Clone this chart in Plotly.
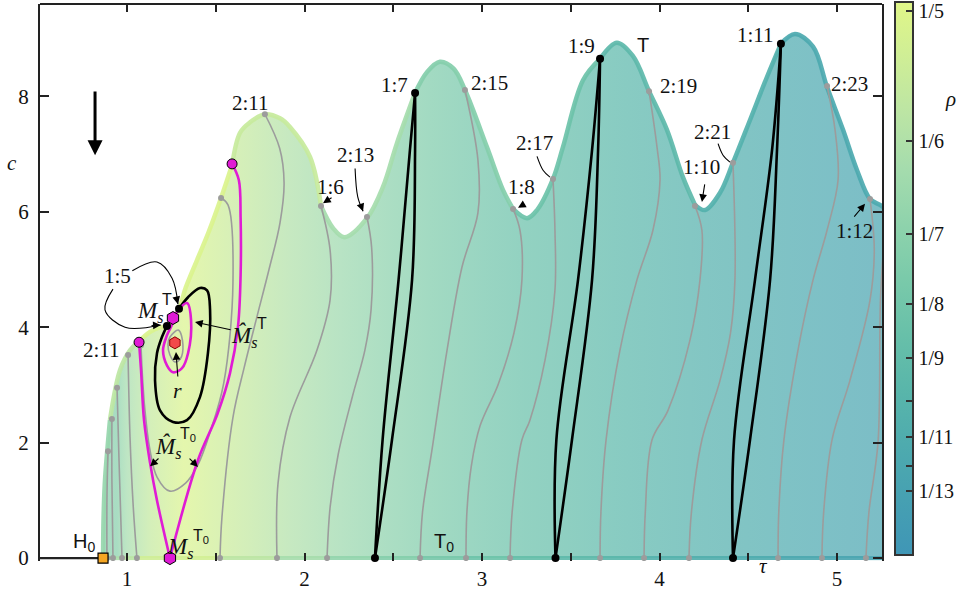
import plotly.graph_objects as go

SERIF = "Liberation Serif"
SANS = "Liberation Sans"
INK = "#111111"
GRAY = "#9c9c9c"
MAGENTA = "#e01bd5"

# ---------------- axes ----------------
X_RANGE = [0.5099, 5.2535]
Y_RANGE = [-0.05, 9.6]
X_TICKS = [1, 2, 3, 4, 5]
X_MINOR = [1.5, 2.5, 3.5, 4.5]
Y_TICKS = [0, 2, 4, 6, 8]

# ---------------- rotation-number colour scale ----------------
RHO_MIN, RHO_MAX = 0.0605, 0.2023
RHO_TICKS = [1/5, 1/6, 1/7, 1/8, 1/9, 1/10, 1/11, 1/12, 1/13]
RHO_TICK_TEXT = ["1/5", "1/6", "1/7", "1/8", "1/9", "", "1/11", "", "1/13"]
CMAP_POS = [0.0, 0.1, 0.2, 0.3, 0.4, 0.5, 0.6, 0.7, 0.8, 0.9, 1.0]
CMAP_HEX = ["#3f96b6", "#46a0b2", "#4eabae", "#59b6aa", "#68c0a9", "#7acaaa",
            "#8fd3ac", "#a5dcad", "#bce5a4", "#cfee96", "#e0f688"]

# ---------------- torus-bifurcation curve T (upper edge of the region) ----------------
T_TAU = [0.865, 0.868, 0.876, 0.904, 0.961, 1.017, 1.068, 1.130, 1.186, 1.225, 1.293, 1.33,
         1.394, 1.46, 1.530, 1.592, 1.637, 1.693, 1.777, 1.862, 1.918, 2.031, 2.093, 2.160,
         2.225, 2.352, 2.442, 2.521, 2.623, 2.690, 2.763, 2.840, 2.904, 3.028, 3.118, 3.175,
         3.254, 3.310, 3.400, 3.456, 3.569, 3.665, 3.760, 3.850, 3.941, 4.042, 4.132, 4.200,
         4.256, 4.341, 4.414, 4.510, 4.606, 4.684, 4.763, 4.865, 4.944, 5.034, 5.113, 5.186,
         5.242, 5.270]
T_C = [0.0, 0.70, 1.35, 2.39, 3.26, 3.60, 3.76, 3.92, 4.00, 4.02, 4.32, 4.68,
       5.16, 5.65, 6.24, 6.81, 7.37, 7.55, 7.69, 7.62, 7.47, 6.95, 6.10, 5.72,
       5.56, 5.89, 6.43, 7.19, 8.06, 8.42, 8.60, 8.48, 8.11, 7.12, 6.38, 6.05,
       5.89, 6.03, 6.57, 7.12, 8.28, 8.65, 8.93, 8.70, 8.09, 7.42, 6.60, 6.12,
       6.03, 6.33, 6.85, 7.59, 8.34, 8.91, 9.08, 8.86, 8.16, 7.42, 6.72, 6.22,
       6.12, 6.06]
# pieces of T drawn in their own colour, with rotation number on each piece
T_SEG_IDX = [0, 3, 6, 15, 22, 28, 35, 41, 47, 53, 61]
T_SEG_RHO = [0.15, 0.175, 0.197, 0.182, 0.16, 0.138, 0.12, 0.107, 0.097, 0.086]

# rotation number along the lower edge T0 (c = 0)
BOT_TAU = [0.865, 0.887, 0.921, 0.972, 1.056, 1.242, 1.524, 1.845, 2.127, 2.397, 2.651,
           2.910, 3.158, 3.414, 3.665, 3.913, 4.166, 4.414, 4.668, 4.915, 5.163, 5.27]
BOT_RHO = [0.14, 0.15, 0.16, 0.167, 0.18, 0.197, 0.1818, 0.1667, 0.1538, 0.1429, 0.1333,
           0.125, 0.1176, 0.1111, 0.1053, 0.1, 0.0952, 0.0909, 0.0870, 0.0833, 0.08, 0.0788]
FILL_SHIFT = 0.08

# ---------------- iso-rotation curves (grey) ----------------
ISO_L1_TAU, ISO_L1_C = [0.893, 0.887, 0.887], [1.85, 1.0, 0.0]
ISO_L2_TAU, ISO_L2_C = [0.915, 0.915, 0.921], [2.41, 1.35, 0.0]
ISO_L3_TAU, ISO_L3_C = [0.944, 0.955, 0.972], [2.95, 1.70, 0.0]
ISO_L4_TAU, ISO_L4_C = [1.006, 1.017, 1.035, 1.056], [3.52, 2.10, 0.9, 0.0]
ISO_211U_TAU = [1.530, 1.569, 1.597, 1.545, 1.47, 1.40, 1.33, 1.242, 1.17, 1.128, 1.100, 1.085, 1.079]
ISO_211U_C = [6.24, 6.12, 4.77, 3.03, 2.2, 1.62, 1.30, 1.16, 1.40, 1.90, 2.60, 3.26, 3.69]
ISO_211_TAU = [1.777, 1.86, 1.885, 1.862, 1.80, 1.732, 1.66, 1.597, 1.535, 1.524]
ISO_211_C = [7.69, 7.1, 6.5, 5.81, 5.0, 4.18, 3.3, 2.44, 0.71, 0.0]
ISO_16_TAU = [2.093, 2.144, 2.144, 2.070, 1.918, 1.851, 1.845]
ISO_16_C = [6.10, 5.34, 4.47, 3.60, 2.44, 1.30, 0.0]
ISO_213_TAU = [2.352, 2.378, 2.375, 2.34, 2.27, 2.19, 2.145, 2.127]
ISO_213_C = [5.91, 5.39, 4.3, 3.6, 2.8, 1.8, 0.9, 0.0]
ISO_215_TAU = [2.904, 2.977, 2.977, 2.887, 2.803, 2.718, 2.665, 2.651]
ISO_215_C = [8.11, 6.90, 5.98, 5.04, 3.60, 1.87, 0.8, 0.0]
ISO_18_TAU = [3.175, 3.214, 3.225, 3.18, 3.09, 2.99, 2.94, 2.915, 2.910]
ISO_18_C = [6.05, 5.68, 4.82, 3.9, 3.0, 2.3, 1.6, 0.8, 0.0]
ISO_217_TAU = [3.40, 3.411, 3.411, 3.355, 3.27, 3.225, 3.17, 3.158]
ISO_217_C = [6.57, 5.68, 4.64, 3.43, 2.39, 2.05, 0.8, 0.0]
ISO_219_TAU = [3.941, 3.986, 4.003, 3.963, 3.873, 3.777, 3.699, 3.670, 3.665]
ISO_219_C = [8.09, 7.12, 6.55, 5.68, 4.82, 3.60, 2.05, 0.8, 0.0]
ISO_110_TAU = [4.20, 4.239, 4.228, 4.172, 4.048, 3.958, 3.92, 3.913]
ISO_110_C = [6.10, 5.68, 4.82, 3.78, 2.56, 2.05, 0.8, 0.0]
ISO_221_TAU = [4.414, 4.425, 4.40, 4.341, 4.239, 4.18, 4.166]
ISO_221_C = [6.85, 4.82, 3.9, 3.08, 2.05, 0.8, 0.0]
ISO_223_TAU = [4.944, 4.989, 5.006, 4.944, 4.865, 4.780, 4.701, 4.672, 4.668]
ISO_223_C = [8.18, 7.42, 6.55, 5.68, 4.82, 3.60, 2.05, 0.8, 0.0]
ISO_112_TAU = [5.186, 5.21, 5.186, 5.073, 4.972, 4.925, 4.915]
ISO_112_C = [6.22, 5.34, 4.47, 3.08, 2.05, 0.8, 0.0]
ISO_225_TAU = [5.27, 5.245, 5.231, 5.18, 5.163]
ISO_225_C = [5.7, 4.5, 2.0, 0.8, 0.0]
ISO_R_TAU = [1.242, 1.290, 1.315, 1.300, 1.270, 1.242, 1.231, 1.242]
ISO_R_C = [3.83, 3.95, 3.70, 3.45, 3.40, 3.52, 3.70, 3.83]

# ---------------- 1:n resonance tongues (black) ----------------
K7L_TAU, K7R_TAU = [2.623, 2.594, 2.53, 2.44, 2.397], [2.623, 2.623, 2.606, 2.493, 2.397]
K7_C = [8.06, 7.07, 4.82, 2.05, 0.0]
K9L_TAU, K9R_TAU = [3.665, 3.62, 3.541, 3.419, 3.414], [3.665, 3.654, 3.62, 3.507, 3.414]
K9_C = [8.65, 7.07, 4.82, 2.05, 0.0]
K11L_TAU, K11R_TAU = [4.684, 4.634, 4.538, 4.42, 4.414], [4.684, 4.662, 4.623, 4.51, 4.414]
K11_C = [8.91, 7.07, 4.82, 2.05, 0.0]
K5_TAU = [1.293, 1.344, 1.411, 1.451, 1.468, 1.456, 1.411, 1.338, 1.259, 1.186, 1.158, 1.169, 1.197, 1.225]
K5_C = [4.32, 4.52, 4.68, 4.64, 4.30, 3.55, 2.79, 2.39, 2.36, 2.56, 3.08, 3.55, 3.83, 4.02]

# ---------------- saddle manifolds (magenta) ----------------
MS_T_TAU = [1.259, 1.338, 1.361, 1.344, 1.310, 1.259, 1.225, 1.203, 1.225, 1.253, 1.259]
MS_T_C = [4.16, 4.42, 4.12, 3.55, 3.29, 3.22, 3.34, 3.60, 3.86, 4.04, 4.16]
MS_T0L_TAU = [1.068, 1.079, 1.096, 1.130, 1.169, 1.242]
MS_T0L_C = [3.74, 3.26, 2.39, 1.65, 1.0, 0.0]
MS_T0R_TAU = [1.242, 1.40, 1.51, 1.58, 1.625, 1.640, 1.640, 1.630, 1.592]
MS_T0R_C = [0.0, 1.70, 2.50, 3.20, 4.0, 4.9, 5.9, 6.55, 6.83]

R_POINT = (1.270, 3.73)


def hex_rgb(h):
    return tuple(int(h[i:i + 2], 16) for i in (1, 3, 5))


def rho_color(rho, alpha=1.0):
    t = (rho - RHO_MIN) / (RHO_MAX - RHO_MIN)
    t = min(max(t, 0.0), 1.0)
    for k in range(len(CMAP_POS) - 1):
        if t <= CMAP_POS[k + 1]:
            f = (t - CMAP_POS[k]) / (CMAP_POS[k + 1] - CMAP_POS[k])
            a, b = hex_rgb(CMAP_HEX[k]), hex_rgb(CMAP_HEX[k + 1])
            rgb = [round(a[i] + f * (b[i] - a[i])) for i in range(3)]
            return f"rgba({rgb[0]},{rgb[1]},{rgb[2]},{alpha})"
    r, g, b = hex_rgb(CMAP_HEX[-1])
    return f"rgba({r},{g},{b},{alpha})"


fig = go.Figure()

# shaded region under T, coloured by rotation number
span = T_TAU[-1] - T_TAU[0]
fill_scale = []
for tau, rho in zip(BOT_TAU, BOT_RHO):
    pos = min(max((tau + FILL_SHIFT - T_TAU[0]) / span, 0.0), 1.0)
    if fill_scale and pos <= fill_scale[-1][0]:
        continue
    fill_scale.append([pos, rho_color(rho, 0.72)])
if fill_scale[0][0] > 0:
    fill_scale.insert(0, [0.0, fill_scale[0][1]])
if fill_scale[-1][0] < 1:
    fill_scale.append([1.0, fill_scale[-1][1]])

fig.add_trace(go.Scatter(
    x=T_TAU, y=T_C, mode="lines", line=dict(width=0, shape="spline"),
    fill="tozeroy",
    fillgradient=dict(type="horizontal", colorscale=fill_scale,
                      start=T_TAU[0], stop=T_TAU[-1]),
    hoverinfo="skip", showlegend=False))

# curve T, piecewise coloured
for k in range(len(T_SEG_RHO)):
    i0, i1 = T_SEG_IDX[k], T_SEG_IDX[k + 1]
    fig.add_trace(go.Scatter(
        x=T_TAU[i0:i1 + 1], y=T_C[i0:i1 + 1], mode="lines",
        line=dict(color=rho_color(T_SEG_RHO[k], 0.92), width=4.5, shape="spline"),
        hoverinfo="skip", showlegend=False))

# curve T0 along c = 0
for k in range(len(BOT_TAU) - 1):
    fig.add_trace(go.Scatter(
        x=[BOT_TAU[k], BOT_TAU[k + 1]], y=[0, 0], mode="lines",
        line=dict(color=rho_color(0.5 * (BOT_RHO[k] + BOT_RHO[k + 1]), 0.92), width=4),
        hoverinfo="skip", showlegend=False))
# axis segment left of H0
fig.add_trace(go.Scatter(x=[X_RANGE[0], T_TAU[0]], y=[0, 0], mode="lines",
                         line=dict(color="#222222", width=2.2),
                         hoverinfo="skip", showlegend=False))

# grey iso-rotation curves
iso_curves = [
    (ISO_L1_TAU, ISO_L1_C), (ISO_L2_TAU, ISO_L2_C), (ISO_L3_TAU, ISO_L3_C),
    (ISO_L4_TAU, ISO_L4_C), (ISO_211U_TAU, ISO_211U_C), (ISO_211_TAU, ISO_211_C),
    (ISO_16_TAU, ISO_16_C), (ISO_213_TAU, ISO_213_C), (ISO_215_TAU, ISO_215_C),
    (ISO_18_TAU, ISO_18_C), (ISO_217_TAU, ISO_217_C), (ISO_219_TAU, ISO_219_C),
    (ISO_110_TAU, ISO_110_C), (ISO_221_TAU, ISO_221_C), (ISO_223_TAU, ISO_223_C),
    (ISO_112_TAU, ISO_112_C), (ISO_225_TAU, ISO_225_C), (ISO_R_TAU, ISO_R_C),
]
for tx, cy in iso_curves:
    fig.add_trace(go.Scatter(x=tx, y=cy, mode="lines",
                             line=dict(color=GRAY, width=1.6, shape="spline"),
                             hoverinfo="skip", showlegend=False))
end_tau, end_c = [], []
for tx, cy in iso_curves[:-1]:
    end_tau += [tx[0], tx[-1]]
    end_c += [cy[0], cy[-1]]
fig.add_trace(go.Scatter(x=end_tau, y=end_c, mode="markers",
                         marker=dict(color=GRAY, size=6),
                         hoverinfo="skip", showlegend=False))

# black tongue boundaries and the 1:5 loop
for tx, cy in [(K7L_TAU, K7_C), (K7R_TAU, K7_C), (K9L_TAU, K9_C), (K9R_TAU, K9_C),
               (K11L_TAU, K11_C), (K11R_TAU, K11_C), (K5_TAU, K5_C)]:
    fig.add_trace(go.Scatter(x=tx, y=cy, mode="lines",
                             line=dict(color="#000000", width=2.6, shape="spline"),
                             hoverinfo="skip", showlegend=False))

# magenta manifolds
for tx, cy in [(MS_T_TAU, MS_T_C), (MS_T0L_TAU, MS_T0L_C), (MS_T0R_TAU, MS_T0R_C)]:
    fig.add_trace(go.Scatter(x=tx, y=cy, mode="lines",
                             line=dict(color=MAGENTA, width=2.6, shape="spline"),
                             hoverinfo="skip", showlegend=False))

# black points
bx = [K7L_TAU[0], K7L_TAU[-1], K9L_TAU[0], K9L_TAU[-1], K11L_TAU[0], K11L_TAU[-1],
      K5_TAU[0], K5_TAU[-1]]
by = [K7_C[0], K7_C[-1], K9_C[0], K9_C[-1], K11_C[0], K11_C[-1], K5_C[0], K5_C[-1]]
fig.add_trace(go.Scatter(x=bx, y=by, mode="markers",
                         marker=dict(color="#000000", size=8),
                         cliponaxis=False, hoverinfo="skip", showlegend=False))
# magenta end points
fig.add_trace(go.Scatter(x=[MS_T0L_TAU[0], MS_T0R_TAU[-1]], y=[MS_T0L_C[0], MS_T0R_C[-1]],
                         mode="markers",
                         marker=dict(color=MAGENTA, size=10, line=dict(color="#000", width=1)),
                         hoverinfo="skip", showlegend=False))
# saddle points
fig.add_trace(go.Scatter(x=[MS_T_TAU[0], MS_T0L_TAU[-1]], y=[MS_T_C[0], MS_T0L_C[-1]],
                         mode="markers",
                         marker=dict(symbol="hexagon", color=MAGENTA, size=13,
                                     line=dict(color="#000", width=1)),
                         cliponaxis=False, hoverinfo="skip", showlegend=False))
# repeller r
fig.add_trace(go.Scatter(x=[R_POINT[0]], y=[R_POINT[1]], mode="markers",
                         marker=dict(symbol="hexagon", color="#f24a4a", size=12,
                                     line=dict(color="#8a0000", width=1)),
                         hoverinfo="skip", showlegend=False))
# H0
fig.add_trace(go.Scatter(x=[T_TAU[0]], y=[T_C[0]], mode="markers",
                         marker=dict(symbol="square", color="#f5a623", size=10,
                                     line=dict(color="#000", width=1.2)),
                         cliponaxis=False, hoverinfo="skip", showlegend=False))

# curved pointer lines
CURVED = [
    ([1.030, 1.169, 1.254, 1.287], [4.98, 5.13, 4.85, 4.40]),
    ([0.921, 0.876, 0.989, 1.190], [4.66, 4.30, 4.00, 4.04]),
    ([2.285, 2.300, 2.330], [6.75, 6.26, 6.01]),
    ([3.310, 3.344, 3.383], [6.96, 6.72, 6.60]),
    ([4.330, 4.358, 4.397], [7.18, 6.98, 6.86]),
]
for tx, cy in CURVED:
    fig.add_trace(go.Scatter(x=tx, y=cy, mode="lines",
                             line=dict(color="#000", width=1.1, shape="spline"),
                             hoverinfo="skip", showlegend=False))

# colour bar carrier
fig.add_trace(go.Scatter(
    x=[X_RANGE[0]], y=[-5], mode="markers",
    marker=dict(color=[RHO_MIN], colorscale=[[p, h] for p, h in zip(CMAP_POS, CMAP_HEX)],
                cmin=RHO_MIN, cmax=RHO_MAX, size=1, showscale=True,
                colorbar=dict(x=1.0154, xanchor="left", y=0.507, yanchor="middle",
                              len=553, lenmode="pixels", thickness=18,
                              thicknessmode="pixels", outlinewidth=2, outlinecolor="#333",
                              ticks="inside", ticklen=8, tickwidth=2, tickcolor="#333",
                              tickvals=RHO_TICKS, ticktext=RHO_TICK_TEXT,
                              ticklabeloverflow="allow",
                              tickfont=dict(family=SERIF, size=20, color=INK),
                              xpad=0, ypad=0)),
    hoverinfo="skip", showlegend=False))

ann = []


def text(t, x, y, size=21, family=SERIF, ref="data", xanchor="center"):
    d = dict(text=t, x=x, y=y, showarrow=False, xanchor=xanchor,
             font=dict(family=family, size=size, color=INK))
    if ref == "paper":
        d.update(xref="paper", yref="paper")
    ann.append(d)


def arrow(x0, y0, x1, y1, width=1.1, size=1.4):
    ann.append(dict(text="", x=x1, y=y1, ax=x0, ay=y0, axref="x", ayref="y",
                    showarrow=True, arrowhead=2, arrowsize=size, arrowwidth=width,
                    arrowcolor="#000"))


# resonance labels
for t, x, y in [("2:11", 1.693, 7.89), ("1:6", 2.144, 6.43), ("2:13", 2.290, 6.98),
                ("1:7", 2.505, 8.20), ("2:15", 3.040, 8.23), ("2:17", 3.293, 7.19),
                ("1:8", 3.22, 6.43), ("1:9", 3.562, 8.87), ("2:19", 4.105, 8.18),
                ("2:21", 4.301, 7.38), ("1:10", 4.239, 6.78), ("1:11", 4.540, 9.06),
                ("2:23", 5.068, 8.21), ("1:12", 5.101, 5.67), ("1:5", 0.949, 4.89),
                ("2:11", 0.855, 3.60)]:
    text(t, x, y)

text("T", 3.907, 8.89, 20, SANS)
text("H<sub>0</sub>", 0.758, 0.27, 20, SANS)
text("T<sub>0</sub>", 2.785, 0.27, 20, SANS)

# manifold names: M with subscript s, superscript placed above the subscript
SUB_S = "<sub><i>s</i></sub>"
text("<i>M</i>" + SUB_S, 1.215, 4.26, 23, xanchor="right")
text("T", 1.186, 4.48, 16, SANS, xanchor="left")
text("<i>M\u0302</i>" + SUB_S, 1.745, 3.84, 23, xanchor="right")
text("T", 1.722, 4.06, 16, SANS, xanchor="left")
text("<i>M\u0302</i>" + SUB_S, 1.313, 1.92, 23, xanchor="right")
text("T<sub>0</sub>", 1.290, 2.14, 16, SANS, xanchor="left")
text("<i>M</i>" + SUB_S, 1.385, 0.18, 23, xanchor="right")
text("T<sub>0</sub>", 1.362, 0.38, 16, SANS, xanchor="left")
text("<i>r</i>", 1.287, 2.91, 22)

# axis names
text("<i>c</i>", -0.0333, 0.74, 21, ref="paper")
text("<i>\u03c4</i>", 0.8587, -0.034, 21, ref="paper")
text("<i>\u03c1</i>", 1.081, 0.855, 21, ref="paper")

# straight pointers
arrow(2.161, 6.26, 2.104, 6.15)
arrow(3.237, 6.13, 3.203, 6.07)
arrow(4.256, 6.50, 4.239, 6.17)
arrow(5.090, 5.89, 5.158, 6.14)
arrow(1.592, 3.95, 1.383, 4.09)
arrow(1.287, 3.12, 1.276, 3.57)
arrow(1.186, 1.75, 1.130, 1.59)
arrow(1.344, 1.75, 1.400, 1.58)
# heads of the curved pointers
for tx, cy in CURVED:
    arrow(tx[-2] + 0.7 * (tx[-1] - tx[-2]), cy[-2] + 0.7 * (cy[-1] - cy[-2]), tx[-1], cy[-1])
# direction arrow
arrow(0.820, 8.11, 0.820, 6.98, width=3, size=1)

fig.update_layout(
    width=969, height=591,
    margin=dict(l=40, r=87, t=4, b=30, autoexpand=False),
    paper_bgcolor="white", plot_bgcolor="white",
    annotations=ann,
    shapes=[dict(type="line", xref="paper", yref="paper", x0=0, x1=1, y0=1, y1=1,
                 line=dict(color="#222222", width=2))],
    xaxis=dict(range=X_RANGE, tickvals=X_TICKS,
               ticks="inside", ticklen=8, tickwidth=1.5, tickcolor="#222",
               minor=dict(tickvals=X_MINOR, ticks="inside", ticklen=8, tickwidth=1.5,
                          tickcolor="#222", showgrid=False),
               mirror="ticks", showline=False, showgrid=False, zeroline=False,
               tickfont=dict(family=SERIF, size=21, color=INK), ticklabelstandoff=3),
    yaxis=dict(range=Y_RANGE, tickvals=Y_TICKS, ticks="inside", ticklen=9,
               tickwidth=1.5, tickcolor="#222", mirror="ticks", showline=True,
               linewidth=2, linecolor="#222", showgrid=False, zeroline=False,
               tickfont=dict(family=SERIF, size=21, color=INK), ticklabelstandoff=5),
)

fig.write_html("out.html")
